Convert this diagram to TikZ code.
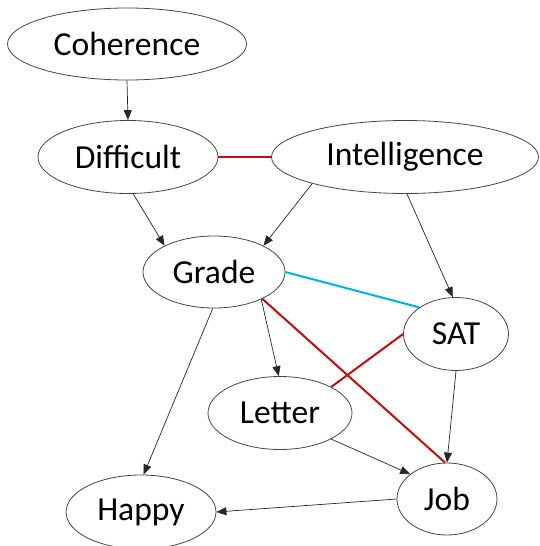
\documentclass[tikz,border=0pt]{standalone}
\usepackage{fontspec}
\setmainfont{Carlito}
\usetikzlibrary{shapes.geometric,arrows.meta}
\definecolor{linkred}{RGB}{196,12,12}
\definecolor{linkblue}{RGB}{0,176,240}
\definecolor{rim}{RGB}{70,70,70}
\tikzset{
  var/.style={ellipse, draw=rim, line width=0.8pt, fill=white, inner sep=0pt,
    font=\fontsize{33.6}{40}\selectfont},
  cause/.style={draw=black!85, line width=0.7pt, -{Triangle[length=10pt,width=8pt]}},
  redlink/.style={draw=linkred, line width=2pt},
  bluelink/.style={draw=linkblue, line width=2pt},
}
\begin{document}
\begin{tikzpicture}[x=1pt,y=-1pt]
\useasboundingbox (0,0) rectangle (539,546);
% variables
\node[var, minimum width=239pt, minimum height=72pt] (coh) at (127,44) {Coherence};
\node[var, minimum width=180pt, minimum height=73pt] (dif) at (128,157) {Difficult};
\node[var, minimum width=267pt, minimum height=73pt] (int) at (405,157) {Intelligence};
\node[var, minimum width=142pt, minimum height=72pt] (gra) at (214,272) {Grade};
\node[var, minimum width=105pt, minimum height=73pt] (sat) at (456,334) {SAT};
\node[var, minimum width=144pt, minimum height=73pt] (let) at (280,413) {Letter};
\node[var, minimum width=150pt, minimum height=74pt] (hap) at (141,512) {Happy};
\node[var, minimum width=100pt, minimum height=72pt] (job) at (447,499) {Job};
% undirected links
\draw[redlink] (dif.east) -- (int.west);
\draw[bluelink] (gra.east) -- (sat.144);
\draw[redlink] (gra.-29) -- (job.93);
\draw[redlink] (let.27) -- (sat.west);
% directed edges
\draw[cause] (coh.south) -- (dif.north);
\draw[cause] (dif.-82) -- (gra.152);
\draw[cause] (int.196) -- (gra.28);
\draw[cause] (int.-87) -- (sat.95);
\draw[cause] (gra.-30) -- (let.92);
\draw[cause] (gra.-92) -- (hap.86);
\draw[cause] (let.-27) -- (job.146);
\draw[cause] (sat.south) -- (job.north);
\draw[cause] (job.west) -- (hap.east);
\end{tikzpicture}
\end{document}
